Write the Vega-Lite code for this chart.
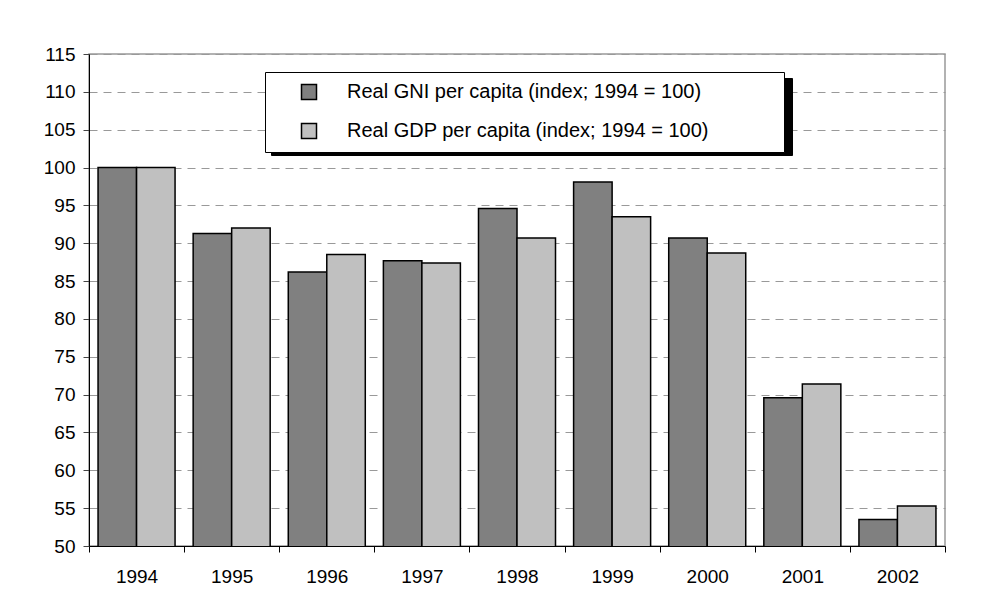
{
  "$schema": "https://vega.github.io/schema/vega-lite/v6.json",
  "width": 856,
  "height": 492,
  "padding": {"left": 43, "top": 45, "right": 38, "bottom": 5},
  "background": "white",
  "data": {
    "values": [
      {"year": "1994", "series": "Real GNI per capita (index; 1994 = 100)", "value": 100},
      {"year": "1994", "series": "Real GDP per capita (index; 1994 = 100)", "value": 100},
      {"year": "1995", "series": "Real GNI per capita (index; 1994 = 100)", "value": 91.3},
      {"year": "1995", "series": "Real GDP per capita (index; 1994 = 100)", "value": 92.0},
      {"year": "1996", "series": "Real GNI per capita (index; 1994 = 100)", "value": 86.2},
      {"year": "1996", "series": "Real GDP per capita (index; 1994 = 100)", "value": 88.5},
      {"year": "1997", "series": "Real GNI per capita (index; 1994 = 100)", "value": 87.7},
      {"year": "1997", "series": "Real GDP per capita (index; 1994 = 100)", "value": 87.4},
      {"year": "1998", "series": "Real GNI per capita (index; 1994 = 100)", "value": 94.6},
      {"year": "1998", "series": "Real GDP per capita (index; 1994 = 100)", "value": 90.7},
      {"year": "1999", "series": "Real GNI per capita (index; 1994 = 100)", "value": 98.1},
      {"year": "1999", "series": "Real GDP per capita (index; 1994 = 100)", "value": 93.5},
      {"year": "2000", "series": "Real GNI per capita (index; 1994 = 100)", "value": 90.7},
      {"year": "2000", "series": "Real GDP per capita (index; 1994 = 100)", "value": 88.7},
      {"year": "2001", "series": "Real GNI per capita (index; 1994 = 100)", "value": 69.6},
      {"year": "2001", "series": "Real GDP per capita (index; 1994 = 100)", "value": 71.4},
      {"year": "2002", "series": "Real GNI per capita (index; 1994 = 100)", "value": 53.5},
      {"year": "2002", "series": "Real GDP per capita (index; 1994 = 100)", "value": 55.3}
    ]
  },
  "encoding": {
    "x": {
      "field": "year", "type": "nominal",
      "scale": {"paddingInner": 0, "paddingOuter": 0},
      "axis": {
        "title": null, "labelAngle": 0, "tickBand": "extent",
        "domainColor": "black", "domainWidth": 1, "tickColor": "black", "tickSize": 6,
        "labelPadding": 15, "labelFontSize": 19, "labelColor": "black", "grid": false
      }
    },
    "y": {
      "field": "value", "type": "quantitative",
      "scale": {"domain": [50, 115], "nice": false, "zero": false},
      "axis": {
        "title": null, "values": [50,55,60,65,70,75,80,85,90,95,100,105,110,115],
        "domainColor": "black", "domainWidth": 1, "tickColor": "#444444", "tickSize": 6,
        "labelPadding": 8, "labelFontSize": 19, "labelColor": "black",
        "grid": true, "gridColor": "#999999", "gridDash": [8, 6], "gridWidth": 1
      }
    }
  },
  "layer": [
    {
      "mark": {"type": "point", "opacity": 0, "filled": true, "clip": true},
      "encoding": {
        "shape": {
          "field": "series", "type": "nominal",
          "sort": ["Real GNI per capita (index; 1994 = 100)", "Real GDP per capita (index; 1994 = 100)"],
          "scale": {"range": ["square", "square"]},
          "legend": {
            "title": " ", "titleOrient": "right", "titlePadding": 429, "titleFontSize": 20,
            "orient": "none", "legendX": 182, "legendY": 24, "zindex": 1,
            "fillColor": "black", "strokeColor": "black",
            "padding": 10, "rowPadding": 17, "symbolSize": 225, "symbolOpacity": 0,
            "symbolOffset": 24, "labelOffset": 28, "labelFontSize": 20,
            "labelExpr": "' '",
            "labelColor": "black", "labelOpacity": 0, "labelLimit": 600
          }
        }
      }
    },
    {
      "mark": {"type": "bar", "stroke": "black", "strokeWidth": 1.5, "clip": true},
      "encoding": {
        "xOffset": {
          "field": "series", "type": "nominal",
          "sort": ["Real GNI per capita (index; 1994 = 100)", "Real GDP per capita (index; 1994 = 100)"],
          "scale": {"paddingInner": 0, "paddingOuter": 0.235}
        },
        "color": {
          "field": "series", "type": "nominal",
          "sort": ["Real GNI per capita (index; 1994 = 100)", "Real GDP per capita (index; 1994 = 100)"],
          "scale": {"range": ["#808080", "#C0C0C0"]},
          "legend": {
            "title": " ", "titleOrient": "right", "titlePadding": 65, "titleFontSize": 20,
            "orient": "none", "legendX": 176, "legendY": 18, "zindex": 2,
            "fillColor": "white", "strokeColor": "black",
            "padding": 10, "rowPadding": 17, "symbolType": "square", "symbolSize": 225,
            "symbolStrokeColor": "black", "symbolStrokeWidth": 1.5,
            "symbolOffset": 24, "labelOffset": 28, "labelFontSize": 20,
            "labelColor": "black", "labelLimit": 600
          }
        }
      }
    }
  ],
  "resolve": {"legend": {"color": "independent", "shape": "independent"}},
  "config": {
    "font": "Liberation Sans",
    "view": {"stroke": "#999999", "strokeWidth": 1.5}
  }
}
